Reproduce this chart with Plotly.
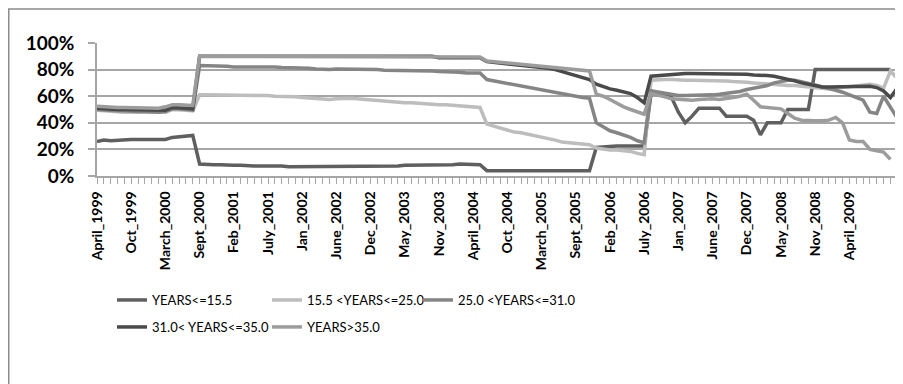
import plotly.graph_objects as go

# ---- data ----
tick_labels = ["April_1999", "Oct_1999", "March_2000", "Sept_2000", "Feb_2001", "July_2001",
               "Jan_2002", "June_2002", "Dec_2002", "May_2003", "Nov_2003", "April_2004",
               "Oct_2004", "March_2005", "Sept_2005", "Feb_2006", "July_2006", "Jan_2007",
               "June_2007", "Dec_2007", "May_2008", "Nov_2008", "April_2009"]
label_step = 5  # one label every 5 periods

series_names = ["YEARS<=15.5", "15.5 <YEARS<=25.0", "25.0 <YEARS<=31.0",
                "31.0< YEARS<=35.0", "YEARS>35.0"]

years_le_15_5 = [
    26, 27, 26.5, 27, 27, 27.5, 27.5, 27.5, 27.5, 27.5, 27.5, 29, 29.5, 29.5, 30.5,
    9, 8.5, 8.5, 8.5, 8, 8, 8, 7.5, 7.5, 7.5, 7.5, 8, 7.5, 7, 7,
    7, 7, 7, 7, 7, 7, 7, 7, 7, 7, 7, 7, 7, 7,
    7.5, 8, 8, 8, 8, 8, 8, 8, 8.5, 9, 9, 9, 8.5,
    4, 4, 4, 4, 4, 4, 4, 4, 4, 4, 4, 4, 4, 4, 4, 4,
    21.5, 22, 22, 22.5, 22.5, 22.5, 22.5, 22.5,
    62, 62, 61, 59, 48, 40, 45, 51, 51, 51, 51, 45, 45, 45, 45, 42, 31, 40, 40, 40, 50, 50, 50, 50,
    80, 80, 80, 80, 80, 80, 80, 80, 80, 80, 80, 80,
    None]

years_15_5_25 = [
    49.5, 49, 48.5, 48.5, 48, 48, 48, 47.5, 47.5, 47.5, 48, 50, 50, 49.5, 49,
    61, 61, 61, 61, 60.5, 60.5, 60.5, 60.5, 60.5, 61, 60.5, 60, 60,
    60, 59.5, 59, 58.5, 58, 57.5, 57.5, 58, 58.5, 58.5, 58, 57.5, 57, 56.5, 56, 56, 55.5, 55, 55,
    54.5, 54, 54, 53.5, 53.5, 53, 52.5, 52.5, 52, 51.5,
    39, 37.5, 36, 34, 33, 32.5, 31.5, 30, 29, 28, 27, 25.5, 25, 24, 24, 23.5,
    21, 20, 19.5, 19.5, 19, 18.5, 17, 16,
    72, 72.5, 72.5, 72.5, 72, 72, 72, 72, 71.5, 71.5, 71.5, 71.5, 71, 71, 70.5, 70, 69.5, 69, 69,
    68.5, 68, 68, 67.5, 67, 66.5, 66, 65.5, 66, 66.5, 67, 67.5, 68, 69, 68, 66, 79, 73.5]

years_25_31 = [
    50, 49.5, 49, 49, 49, 48.5, 48.5, 48.5, 48, 48, 48.5, 50.5, 50.5, 50, 49.5,
    83, 83, 83, 83, 82.5, 82, 82, 82, 82, 82.5, 82.5, 82, 81.5, 81.5, 81, 81, 81, 80.5, 80, 80,
    80.5, 80.5, 80.5, 80, 80, 80, 80, 79.5, 79.5, 79.5, 79.5, 79.5, 79, 79, 79, 78.5, 78.5, 78, 78,
    77.5, 77.5, 77.5,
    72.5, 71.5, 71, 70, 69, 68, 67, 66, 65, 64, 63, 62, 61, 60, 59, 58.5,
    40, 37, 34, 32.5, 31, 29, 26.5, 25,
    64, 63, 62, 61, 60.5, 60.5, 60.5, 60.5, 61, 61, 61.5, 62, 62.5, 63.5, 65, 66, 67, 68, 70, 71,
    72, 72, 71, 70, 68.5, 67, 66, 64.5, 63, 61, 59, 57, 48, 47, 60, 52, 43.5]

years_31_35 = [
    51, 50.5, 50, 50, 50, 50, 49.5, 49.5, 49.5, 49.5, 49.5, 51.5, 51.5, 51, 50.5,
    90, 90, 90, 90, 90, 90, 90, 90, 90, 90, 90, 90, 90, 90, 90, 90, 90, 90,
    90, 90, 90, 90, 90, 90, 90, 90, 90, 90, 90, 90, 90, 90, 90, 90, 90,
    89, 89, 89, 89, 89, 89, 89,
    86, 85.5, 85, 84, 83.5, 83, 82.5, 82, 81.5, 81, 80, 78.5, 77, 75.5, 74, 72.5,
    69, 67, 65.5, 64.5, 63.5, 62, 59, 55,
    75, 75.5, 76, 76.5, 77, 77, 77, 77, 77, 77, 77, 77, 77, 77, 76.5, 76, 76, 75.5, 75, 74,
    72.5, 71.5, 70, 69, 67.5, 67, 67, 67, 67, 67, 67, 67.5, 67.5, 66.5, 64, 59, 66]

years_gt_35 = [
    52.5, 52, 52, 51.5, 51.5, 51.5, 51.5, 51, 51, 51, 52, 53.5, 53.5, 53.5, 53,
    90, 90, 90, 90, 90, 90, 90, 90, 90, 90, 90, 90, 90, 90, 90, 90, 90, 90,
    90, 90, 90, 90, 90, 90, 90, 90, 90, 90, 90, 90, 90, 90, 90, 90, 90,
    89.5, 89.5, 89.5, 89.5, 89.5, 89.5, 89.5,
    86.5, 86, 85, 84.5, 84, 83.5, 83, 82.5, 82, 82, 81.5, 81, 80.5, 80, 79.5, 79,
    61.5, 60, 57.5, 54.5, 52, 50, 48, 46.5,
    62, 61, 59.5, 58, 57.5, 57, 57, 57.5, 58, 58, 57.5, 58, 59, 60, 61.5, 57, 52, 51.5, 51, 50.5,
    47, 43.5, 42, 41.5, 41.5, 41.5, 42, 44, 40, 27, 26, 26, 20, 19, 18, 12.5, None]

all_series = [years_le_15_5, years_15_5_25, years_25_31, years_31_35, years_gt_35]
colors = ["#5f5f5f", "#bdbdbd", "#858585", "#4a4a4a", "#9c9c9c"]

# ---- layout geometry (page body adds an 8px offset) ----
W, H = 903, 384
OFF = 8
ML, MT = 97 - OFF, 43 - OFF
PW, PH = 803, 133
MR, MB = W - ML - PW, H - MT - PH


def px_x(px):
    return (px - OFF - ML) / PW


def px_y(py):
    return (H - MB - (py - OFF)) / PH


# legend item positions (text start x, row centre y) in page pixels
legend_ids = ["legend", "legend2", "legend3", "legend4", "legend5"]
legend_text_x = [153, 308, 459, 153, 308]
legend_row_y = [300, 300, 300, 327, 327]

fig = go.Figure()
n = len(years_le_15_5)
periods = list(range(n))
for name, vals, col, lg in zip(series_names, all_series, colors, legend_ids):
    fig.add_trace(go.Scatter(x=periods, y=vals, mode="lines", name=name,
                             line=dict(color=col, width=3.5), legend=lg,
                             connectgaps=False))

xfont = dict(family="Lato, Liberation Sans, sans-serif", size=14, color="#000", weight="bold")
yfont = dict(family="Lato, Liberation Sans, sans-serif", size=19, color="#000", weight="bold")
lfont = dict(family="Lato, Liberation Sans, sans-serif", size=13, color="#000")
grid_col = "#a6a6a6"

legends = {}
for lg, tx, ty in zip(legend_ids, legend_text_x, legend_row_y):
    legends[lg] = dict(orientation="h", xref="container", yref="container",
                       x=(tx - OFF - 41) / W, xanchor="left",
                       y=1 - (ty - OFF) / H, yanchor="middle",
                       itemwidth=30, font=lfont, bgcolor="rgba(0,0,0,0)",
                       borderwidth=0, tracegroupgap=0)

fig.update_layout(
    width=W, height=H,
    margin=dict(l=ML, r=MR, t=MT, b=MB, pad=0, autoexpand=False),
    paper_bgcolor="white", plot_bgcolor="white",
    xaxis=dict(range=[0, 117.4], tickmode="array", automargin=False,
               tickvals=[i * label_step for i in range(len(tick_labels))],
               ticktext=tick_labels, tickangle=-90, tickfont=xfont,
               showgrid=False, zeroline=False, showline=True, linecolor=grid_col, linewidth=1.5,
               ticks="outside", ticklen=6, tickcolor=grid_col, tickwidth=1,
               ticklabelstandoff=2,
               minor=dict(dtick=1, tick0=0, ticks="outside", ticklen=6,
                          tickcolor=grid_col, tickwidth=1, showgrid=False)),
    yaxis=dict(range=[0, 100], dtick=20, ticksuffix="%", tickfont=yfont, automargin=False,
               showgrid=True, gridcolor=grid_col, gridwidth=1.5, zeroline=False,
               showline=True, linecolor=grid_col, linewidth=1.5,
               ticks="outside", ticklen=7, tickcolor=grid_col, tickwidth=1.5,
               ticklabelstandoff=10),
    showlegend=True,
    **legends,
)

fig.add_shape(type="rect", xref="paper", yref="paper",
              x0=px_x(8.75), x1=px_x(906), y0=px_y(392), y1=px_y(9),
              line=dict(color="#8c8c8c", width=1.5), fillcolor="rgba(0,0,0,0)", layer="below")

fig.write_html("out.html")
